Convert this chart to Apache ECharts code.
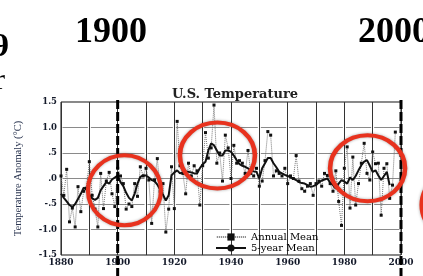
<!DOCTYPE html>
<html>
<head>
<meta charset="utf-8">
<script src="https://cdn.jsdelivr.net/npm/echarts@6/dist/echarts.min.js"></script>
<style>
  html, body { margin: 0; padding: 0; background: #fff; }
  #myChart { width: 423px; height: 276px; }
</style>
</head>
<body>
<div id="myChart"></div>
<script>
// annual values, 1880 - 1998
var years = [
  1880, 1881, 1882, 1883, 1884, 1885, 1886, 1887, 1888, 1889,
  1890, 1891, 1892, 1893, 1894, 1895, 1896, 1897, 1898, 1899,
  1900, 1901, 1902, 1903, 1904, 1905, 1906, 1907, 1908, 1909,
  1910, 1911, 1912, 1913, 1914, 1915, 1916, 1917, 1918, 1919,
  1920, 1921, 1922, 1923, 1924, 1925, 1926, 1927, 1928, 1929,
  1930, 1931, 1932, 1933, 1934, 1935, 1936, 1937, 1938, 1939,
  1940, 1941, 1942, 1943, 1944, 1945, 1946, 1947, 1948, 1949,
  1950, 1951, 1952, 1953, 1954, 1955, 1956, 1957, 1958, 1959,
  1960, 1961, 1962, 1963, 1964, 1965, 1966, 1967, 1968, 1969,
  1970, 1971, 1972, 1973, 1974, 1975, 1976, 1977, 1978, 1979,
  1980, 1981, 1982, 1983, 1984, 1985, 1986, 1987, 1988, 1989,
  1990, 1991, 1992, 1993, 1994, 1995, 1996, 1997, 1998
]
var annualMean = [
  0.05, -0.33, 0.18, -0.85, -0.58, -0.95, -0.16, -0.65, -0.25, -0.19,
  0.33, -0.33, -0.60, -0.95, 0.10, -0.59, -0.05, 0.12, -0.30, -0.55,
  0.20, 0.05, -0.10, -0.60, -0.50, -0.55, -0.10, -0.35, 0.23, 0.05,
  0.20, -0.03, -0.88, -0.03, 0.39, -0.25, -0.10, -1.05, -0.60, 0.23,
  -0.59, 1.12, 0.25, 0.10, -0.30, 0.30, 0.05, 0.25, 0.15, -0.52,
  0.25, 0.90, 0.40, 0.60, 1.44, 0.30, 0.50, -0.05, 0.85, 0.60,
  0.00, 0.65, 0.30, 0.35, 0.30, 0.10, 0.55, 0.10, 0.05, 0.20,
  -0.15, -0.05, 0.35, 0.92, 0.85, 0.05, 0.15, 0.10, 0.05, 0.20,
  -0.10, 0.05, 0.00, 0.45, -0.05, -0.20, -0.25, -0.15, -0.10, -0.33,
  -0.10, -0.05, -0.15, 0.10, 0.06, -0.10, -0.25, 0.15, -0.45, -0.92,
  0.20, 0.62, -0.58, 0.42, -0.52, -0.10, 0.30, 0.69, 0.10, -0.03,
  0.52, 0.29, 0.30, -0.72, 0.20, 0.29, -0.39, -0.13, 0.91
]
// 5-year mean, 1880 - 1996
var fiveYearMean = [
  -0.30, -0.38, -0.45, -0.52, -0.56, -0.50, -0.40, -0.30, -0.18, -0.22,
  -0.32, -0.39, -0.42, -0.38, -0.23, -0.15, -0.07, -0.10, -0.02, 0.02,
  0.06, -0.07, -0.15, -0.28, -0.38, -0.43, -0.30, -0.10, 0.03, 0.06,
  0.06, 0.02, -0.03, -0.05, -0.12, -0.22, -0.32, -0.43, -0.33, 0.06,
  0.12, 0.16, 0.10, 0.12, 0.13, 0.13, 0.12, 0.10, 0.10, 0.20,
  0.28, 0.33, 0.55, 0.69, 0.65, 0.55, 0.45, 0.45, 0.55, 0.55,
  0.52, 0.45, 0.36, 0.28, 0.25, 0.23, 0.20, 0.16, 0.14, 0.13,
  0.00, 0.20, 0.30, 0.40, 0.40, 0.30, 0.22, 0.13, 0.10, 0.07,
  0.05, 0.02, 0.00, -0.03, -0.07, -0.09, -0.10, -0.13, -0.16, -0.15,
  -0.13, -0.08, -0.04, -0.02, 0.00, -0.08, -0.13, -0.20, -0.10, -0.03,
  -0.06, -0.10, 0.02, -0.03, 0.05, 0.16, 0.26, 0.33, 0.36, 0.25,
  0.13, 0.16, 0.06, -0.03, 0.05, 0.13, -0.13
]
var yTickLabels = { '1.5': '1.5', '1': '1.0', '0.5': '.5', '0': '.0', '-0.5': '-.5', '-1': '-1.0', '-1.5': '-1.5' }

var serif = 'Liberation Serif'
var wideSerif = 'DejaVu Serif'
var txtColor = '#141a2a'

let myChart = echarts.init(document.getElementById('myChart'))

var option = {
  animation: false,
  backgroundColor: '#fff',
  title: {
    text: 'U.S. Temperature',
    left: 230,
    top: 83,
    textAlign: 'center',
    textStyle: { fontFamily: wideSerif, fontSize: 13, fontWeight: 'bold', color: '#222' }
  },
  legend: {
    orient: 'vertical',
    left: 210,
    top: 227,
    itemWidth: 30,
    itemHeight: 9,
    itemGap: 1,
    textStyle: { fontFamily: wideSerif, fontSize: 10, lineHeight: 10, color: '#000' },
    data: ['Annual Mean', '5-year Mean']
  },
  grid: {
    left: 61,
    right: 22,
    top: 102,
    bottom: 21,
    show: true,
    borderColor: '#111',
    borderWidth: 1
  },
  xAxis: {
    type: 'value',
    min: 1880,
    max: 2000,
    interval: 10,
    axisLine: { show: false },
    axisTick: { show: false },
    axisLabel: {
      margin: 3,
      fontFamily: wideSerif,
      fontWeight: 'bold',
      fontSize: 9,
      color: txtColor,
      formatter: function(v) { return v % 20 === 0 ? String(v) : '' }
    },
    splitLine: { show: true, lineStyle: { color: '#333', width: 1 } }
  },
  yAxis: {
    type: 'value',
    min: -1.5,
    max: 1.5,
    interval: 0.5,
    name: 'Temperature Anomaly (°C)',
    nameLocation: 'middle',
    nameRotate: 90,
    nameGap: 37,
    nameTextStyle: { fontFamily: serif, fontSize: 10.5, color: '#2a3550' },
    axisLine: { show: false },
    axisTick: { show: false },
    axisLabel: {
      margin: 4,
      fontFamily: wideSerif,
      fontWeight: 'bold',
      fontSize: 8.5,
      color: txtColor,
      formatter: function(v) { return yTickLabels[String(v)] }
    },
    splitLine: {
      show: true,
      lineStyle: { color: '#8a8a8a', width: 1, type: [25.33, 3], dashOffset: 26.8 }
    }
  },
  series: [
    {
      name: 'Annual Mean',
      type: 'line',
      data: years.map(function(y, i) { return [y, annualMean[i]] }),
      symbol: 'rect',
      symbolSize: 3,
      itemStyle: { color: '#111' },
      lineStyle: { color: '#777', width: 1, type: [1, 1] },
      z: 3
    },
    {
      name: '5-year Mean',
      type: 'line',
      data: years.slice(0, fiveYearMean.length).map(function(y, i) { return [y, fiveYearMean[i]] }),
      showSymbol: false,
      symbol: 'none',
      itemStyle: { color: '#111' },
      lineStyle: { color: '#111', width: 2 },
      z: 4
    }
  ]
}

myChart.setOption(option)

// annotations: dashed markers at 1900 / 2000, red circles, cut-off slide text
var markYears = [1900, 2000]
var rings = [
  // [year, value, rx, ry]
  [1902.4, -0.23, 36.5, 35],
  [1935.2, 0.45, 37.5, 33],
  [1988.2, 0.20, 37.5, 33],
  [2020.5, -0.52, 37.5, 35]
]
var graphics = []
markYears.forEach(function(yr) {
  var px = myChart.convertToPixel({ xAxisIndex: 0 }, yr)
  graphics.push({
    type: 'line', z: 50,
    shape: { x1: px, y1: 100, x2: px, y2: 276 },
    style: { stroke: '#000', lineWidth: 3, lineDash: [9, 3] }
  })
})
rings.forEach(function(r) {
  var p = myChart.convertToPixel({ gridIndex: 0 }, [r[0], r[1]])
  graphics.push({
    type: 'circle', z: 60,
    x: p[0], y: p[1], scaleX: r[2] / r[3],
    shape: { cx: 0, cy: 0, r: r[3] },
    style: { fill: 'none', stroke: '#e8321e', lineWidth: 4, shadowBlur: 3, shadowColor: 'rgba(0,0,0,0.35)' }
  })
})
graphics.push(
  { type: 'text', z: 70, x: 111, y: 33, style: { text: '1900', font: 'bold 36px "Liberation Serif"', fill: '#000', align: 'center', verticalAlign: 'middle' } },
  { type: 'text', z: 70, x: 358, y: 33, style: { text: '2000', font: 'bold 36px "Liberation Serif"', fill: '#000', align: 'left', verticalAlign: 'middle' } },
  { type: 'text', z: 70, x: -8, y: 47, style: { text: '9', font: 'bold 34px "Liberation Serif"', fill: '#000', align: 'left', verticalAlign: 'middle' } },
  { type: 'text', z: 70, x: -5, y: 96, style: { text: 'r', font: '30px "Liberation Serif"', fill: '#000', align: 'left', verticalAlign: 'bottom' } }
)
myChart.setOption({ graphic: graphics })

window.onresize = myChart.resize
</script>
</body>
</html>
